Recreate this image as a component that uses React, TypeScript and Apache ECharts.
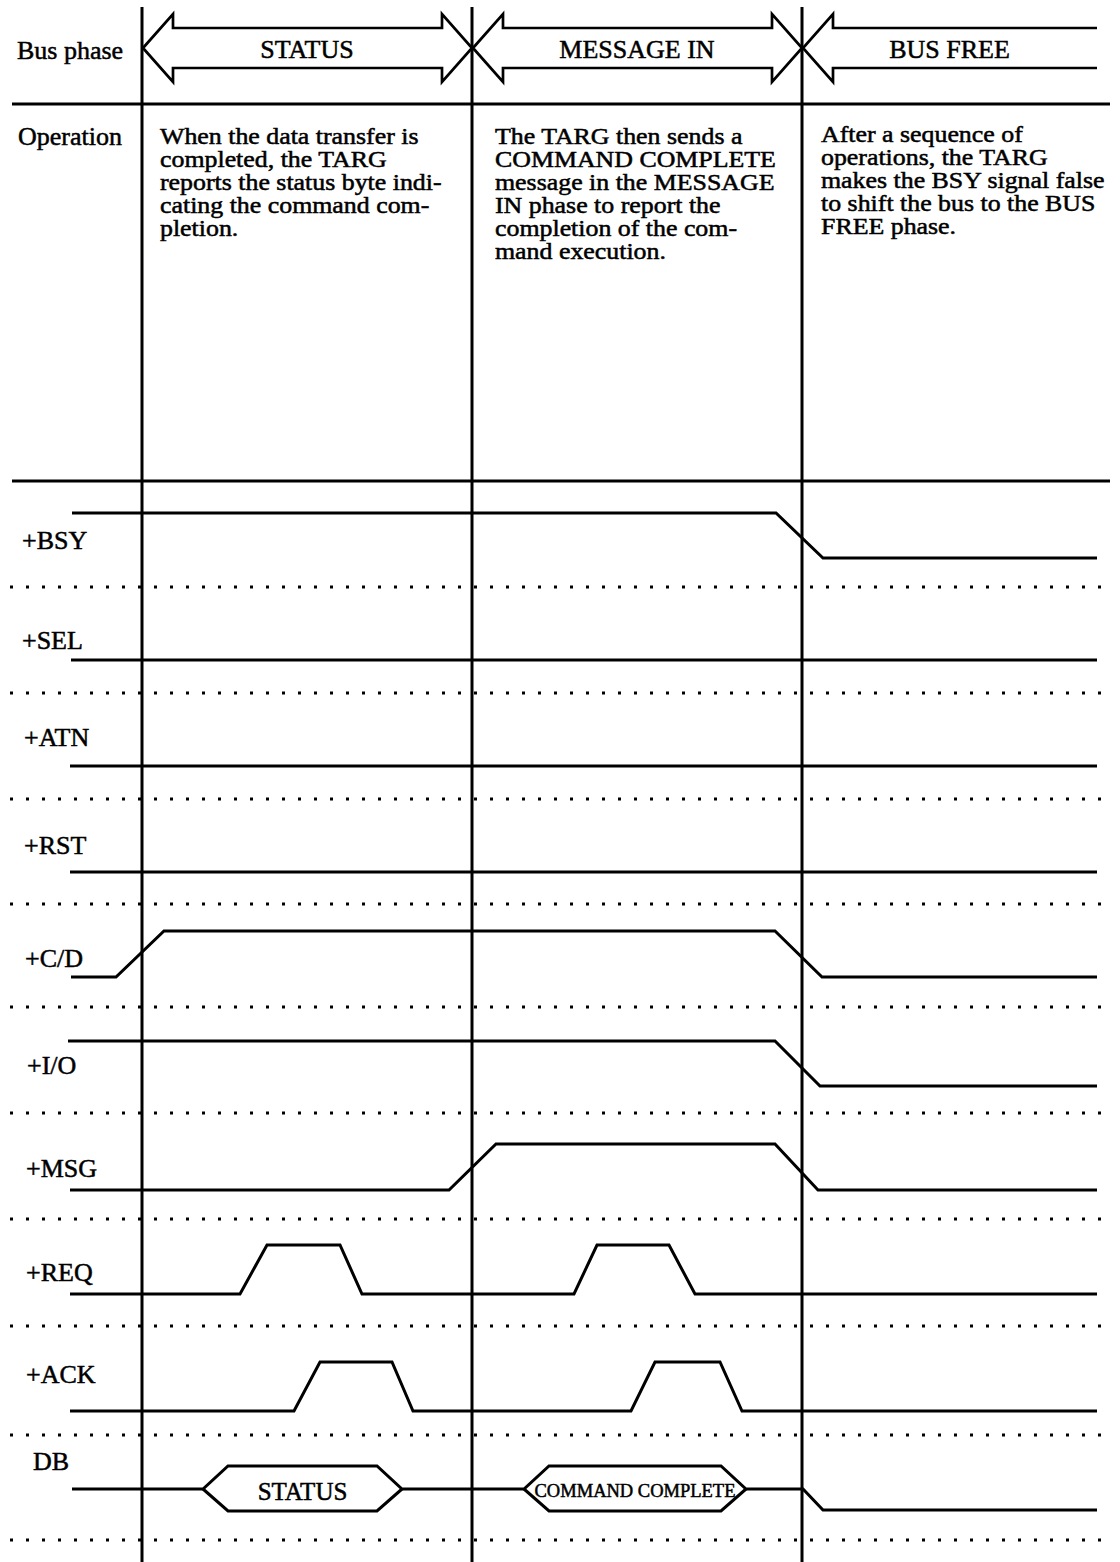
import React, { useEffect, useRef } from "react";
import * as echarts from "echarts";

// ---------- data ----------
const phases = ["STATUS", "MESSAGE IN", "BUS FREE"];
const phaseStarts = [142, 472, 802];
const phaseEnd = 1097;

const operationTexts = [
  [
    "When the data transfer is",
    "completed, the TARG",
    "reports the status byte indi-",
    "cating the command com-",
    "pletion.",
  ],
  [
    "The TARG then sends a",
    "COMMAND COMPLETE",
    "message in the MESSAGE",
    "IN phase to report the",
    "completion of the com-",
    "mand execution.",
  ],
  [
    "After a sequence of",
    "operations, the TARG",
    "makes the BSY signal false",
    "to shift the bus to the BUS",
    "FREE phase.",
  ],
];

const signalNames = ["+BSY", "+SEL", "+ATN", "+RST", "+C/D", "+I/O", "+MSG", "+REQ", "+ACK"];

// waveforms: [time, level(1 = high, 0 = low)]
const bsyWave = [[72, 1], [776, 1], [823, 0], [1097, 0]];
const selWave = [[71, 0], [1097, 0]];
const atnWave = [[70, 0], [1097, 0]];
const rstWave = [[70, 0], [1097, 0]];
const cdWave = [[71, 0], [116, 0], [164, 1], [775, 1], [822, 0], [1097, 0]];
const ioWave = [[68, 1], [775, 1], [820, 0], [1097, 0]];
const msgWave = [[70, 0], [449, 0], [496, 1], [775, 1], [818, 0], [1097, 0]];
const reqWave = [[70, 0], [240, 0], [267, 1], [340, 1], [362, 0], [574, 0], [597, 1], [669, 1], [695, 0], [1097, 0]];
const ackWave = [[70, 0], [294, 0], [320, 1], [392, 1], [413, 0], [631, 0], [655, 1], [720, 1], [742, 0], [1097, 0]];
const waves = [bsyWave, selWave, atnWave, rstWave, cdWave, ioWave, msgWave, reqWave, ackWave];

// DB bus: cells with valid data, then released
const dbName = "DB";
const dbStart = 72;
const dbCellLabels = ["STATUS", "COMMAND COMPLETE"];
const dbCellFrom = [203, 524];
const dbCellTo = [402, 746];
const dbRelease = [803, 823];
const dbEnd = 1097;

// ---------- layout ----------
const W = 1120;
const H = 1562;
const FONT = '"Liberation Serif", "Times New Roman", serif';
const rowLow = [558, 660, 766, 872, 977, 1086, 1190, 1294, 1411];
const rowHigh = [513, 615, 721, 827, 931, 1041, 1144, 1245, 1362];
const labelX = [22, 22, 24, 24, 25, 27, 26, 26, 26];
const labelY = [540, 640, 737, 845, 958, 1065, 1168, 1272, 1374];
const dotRows = [587, 693, 799, 904, 1007, 1113, 1219, 1326, 1435, 1540];
const dbMid = 1489;
const dbTop = 1466;
const dbBot = 1511;
const dbLow = 1510;
const hexSlope = 25;
const arrowMid = 48;
const arrowHead = 34;
const arrowBody = 20;
const arrowHeadLen = 30;
const opColX = [160, 495, 821];
const opColY = [136, 136, 134];
const opLine = 23;

export default function App() {
  const ref = useRef<HTMLDivElement>(null);

  useEffect(() => {
    if (!ref.current) return;
    const chart = echarts.init(ref.current, undefined, { renderer: "svg" });

    const black = "#000";
    const series: any[] = [];
    const lineSeries = (data: number[][], width = 3, extra: any = {}) => ({
      type: "line",
      data,
      symbol: "none",
      silent: true,
      animation: false,
      lineStyle: { color: black, width, join: "miter", cap: "butt", ...extra },
      z: 2,
    });

    // vertical phase boundaries
    phaseStarts.forEach((x) => {
      series.push(lineSeries([[x, 7], [x, H]], 3));
    });
    // horizontal separators
    [104, 481].forEach((y) => series.push(lineSeries([[12, y], [1110, y]], 3)));
    // dotted rows
    dotRows.forEach((y) =>
      series.push(lineSeries([[10, y], [1104, y]], 3, { type: [3, 13] }))
    );

    // bus phase arrows
    phases.forEach((_, i) => {
      const a = phaseStarts[i] + 1;
      const last = i === phases.length - 1;
      const b = last ? phaseEnd : phaseStarts[i + 1];
      const ht = arrowMid - arrowHead, hb = arrowMid + arrowHead;
      const bt = arrowMid - arrowBody, bb = arrowMid + arrowBody;
      const h = arrowHeadLen;
      let pts: number[][];
      if (!last) {
        pts = [
          [a, arrowMid], [a + h, ht], [a + h, bt], [b - h, bt], [b - h, ht], [b, arrowMid],
          [b - h, hb], [b - h, bb], [a + h, bb], [a + h, hb], [a, arrowMid],
        ];
      } else {
        pts = [[b, bt], [a + h, bt], [a + h, ht], [a, arrowMid], [a + h, hb], [a + h, bb], [b, bb]];
      }
      series.push(lineSeries(pts, 2.7));
    });

    // signal waveforms
    waves.forEach((w, i) => {
      series.push(lineSeries(w.map(([t, l]) => [t, l ? rowHigh[i] : rowLow[i]]), 3));
    });

    // DB bus
    const upper: number[][] = [[dbStart, dbMid]];
    dbCellFrom.forEach((f, k) => {
      const t = dbCellTo[k];
      upper.push([f, dbMid], [f + hexSlope, dbTop], [t - hexSlope, dbTop], [t, dbMid]);
      series.push(lineSeries([[f, dbMid], [f + hexSlope, dbBot], [t - hexSlope, dbBot], [t, dbMid]], 3));
    });
    upper.push([dbRelease[0], dbMid], [dbRelease[1], dbLow], [dbEnd, dbLow]);
    series.push(lineSeries(upper, 3));

    // texts
    const txt = (text: string, x: number, y: number, size = 26, align = "left", sx = 1) => ({
      type: "text",
      x,
      y,
      scaleX: sx,
      silent: true,
      z: 10,
      style: {
        text,
        fill: black,
        stroke: black,
        lineWidth: 0.5,
        font: `${size}px ${FONT}`,
        textAlign: align,
        textVerticalAlign: "middle",
      },
    });
    const graphic: any[] = [];
    graphic.push(txt("Bus phase", 17, 50));
    phases.forEach((p, i) => {
      const a = phaseStarts[i];
      const b = i === phases.length - 1 ? phaseEnd : phaseStarts[i + 1];
      graphic.push(txt(p, (a + b) / 2, 49, 26, "center"));
    });
    graphic.push(txt("Operation", 18, 136));
    operationTexts.forEach((lines, c) => {
      lines.forEach((l, k) =>
        graphic.push(txt(l, opColX[c], opColY[c] + k * opLine, 22.5, "left", 1.15))
      );
    });
    signalNames.forEach((n, i) => graphic.push(txt(n, labelX[i], labelY[i])));
    graphic.push(txt(dbName, 33, 1461));
    dbCellLabels.forEach((l, k) => {
      const cx = (dbCellFrom[k] + dbCellTo[k]) / 2;
      graphic.push(txt(l, cx, dbMid + 2, k === 0 ? 25 : 18.5, "center"));
    });

    chart.setOption({
      animation: false,
      backgroundColor: "#fff",
      grid: { left: 0, right: 0, top: 0, bottom: 0, containLabel: false },
      xAxis: { type: "value", min: 0, max: W, show: false, splitLine: { show: false } },
      yAxis: { type: "value", min: 0, max: H, inverse: true, show: false, splitLine: { show: false } },
      series,
      graphic,
    });

    return () => chart.dispose();
  }, []);

  return (
    <div
      ref={ref}
      style={{ position: "absolute", left: 0, top: 0, width: W, height: H, background: "#fff" }}
    />
  );
}
